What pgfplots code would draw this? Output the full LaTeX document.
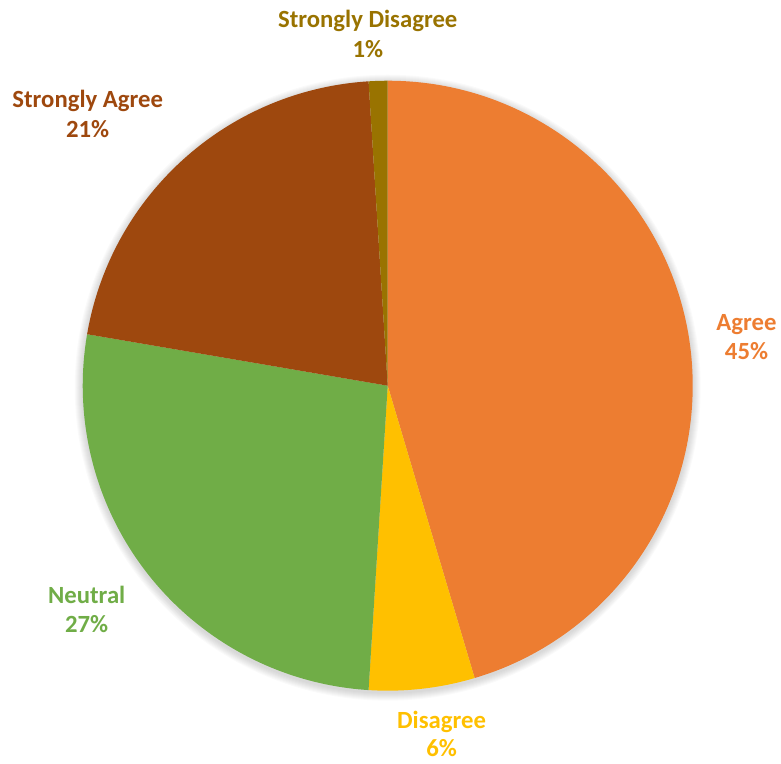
\documentclass[border=0pt]{standalone}
\usepackage{pgfplots}
\pgfplotsset{compat=1.18}
\usepackage{fontspec}
\setmainfont{Carlito}
\definecolor{cAgree}{HTML}{ED7D31}
\definecolor{cDis}{HTML}{FFC000}
\definecolor{cNeu}{HTML}{70AD47}
\definecolor{cSA}{HTML}{9E480E}
\definecolor{cSD}{HTML}{997300}
\tikzset{lbl/.style={anchor=base, font=\bfseries\fontsize{18.6}{22}\selectfont}}
\begin{document}
\begin{tikzpicture}
\begin{axis}[
x=0.75pt, y=0.75pt, scale only axis,
xmin=0, xmax=781, ymin=0, ymax=766,
hide axis, clip=false,
]
\path (axis cs:0,0) rectangle (axis cs:781,766);
% soft shadow
\pgfplotsinvokeforeach{1,2,3,4,5,6,7,8}{
  \fill[black, opacity=0.02] (axis cs:389,377) circle[radius={(306+#1)*0.75pt}];
}
% wedges, clockwise from 12 o'clock
\def\cum{0}
\foreach \v/\c in {45.4/cAgree, 5.6/cDis, 26.7/cNeu, 21.3/cSA, 1.0/cSD}{
  \pgfmathsetmacro\sa{90-3.6*\cum}
  \pgfmathsetmacro\ea{90-3.6*(\cum+\v)}
  \pgfmathsetmacro\px{389+306*cos(\sa)}
  \pgfmathsetmacro\py{379+306*sin(\sa)}
  \edef\temp{\noexpand\fill[\c] (axis cs:389,379) -- (axis cs:\px,\py)
    arc[start angle=\sa, end angle=\ea, radius=229.5pt] -- cycle;}
  \temp
  \pgfmathsetmacro\newcum{\cum+\v}
  \xdef\cum{\newcum}
}
% labels
\node[lbl, text=cSD] at (axis cs:369,738) {Strongly Disagree};
\node[lbl, text=cSD] at (axis cs:369,708) {1\%};
\node[lbl, text=cSA] at (axis cs:88,658) {Strongly Agree};
\node[lbl, text=cSA] at (axis cs:88,628) {21\%};
\node[lbl, text=cAgree] at (axis cs:749,434) {Agree};
\node[lbl, text=cAgree] at (axis cs:749,405) {45\%};
\node[lbl, text=cNeu] at (axis cs:87,160) {Neutral};
\node[lbl, text=cNeu] at (axis cs:87,131) {27\%};
\node[lbl, text=cDis] at (axis cs:443,35) {Disagree};
\node[lbl, text=cDis] at (axis cs:443,7) {6\%};
\end{axis}
\end{tikzpicture}
\end{document}
